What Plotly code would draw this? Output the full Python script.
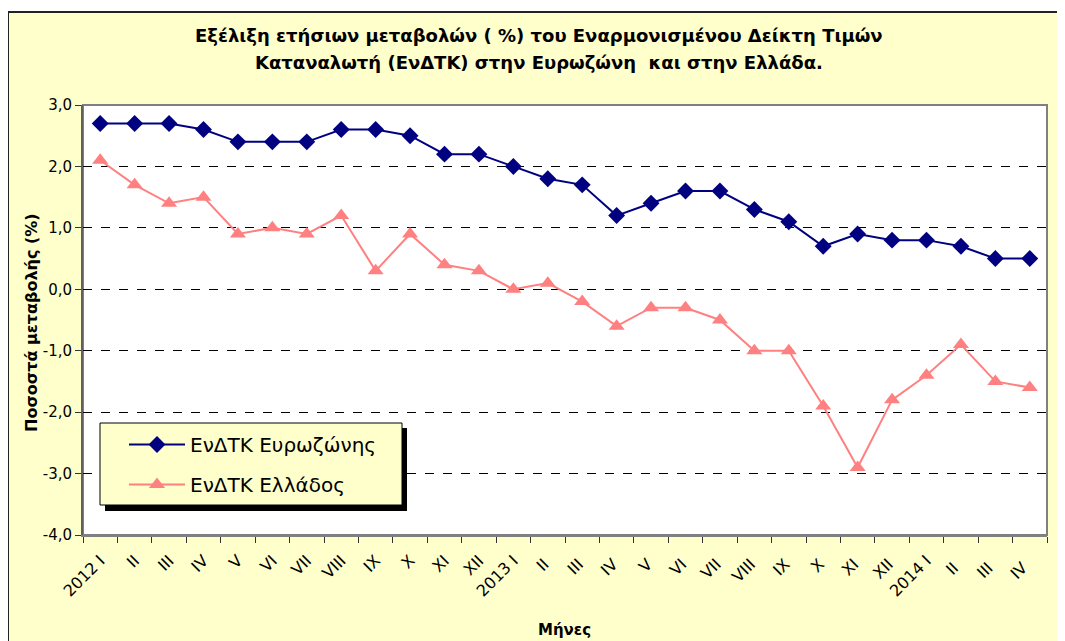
import plotly.graph_objects as go

months = ["2012 I", "II", "III", "IV", "V", "VI", "VII", "VIII", "IX", "X", "XI", "XII",
          "2013 I", "II ", "III ", "IV ", "V ", "VI ", "VII ", "VIII ", "IX ", "X ", "XI ", "XII ",
          "2014 I", "II  ", "III  ", "IV  "]
eurozone = [2.7, 2.7, 2.7, 2.6, 2.4, 2.4, 2.4, 2.6, 2.6, 2.5, 2.2, 2.2,
            2.0, 1.8, 1.7, 1.2, 1.4, 1.6, 1.6, 1.3, 1.1, 0.7, 0.9, 0.8,
            0.8, 0.7, 0.5, 0.5]
greece = [2.1, 1.7, 1.4, 1.5, 0.9, 1.0, 0.9, 1.2, 0.3, 0.9, 0.4, 0.3,
          0.0, 0.1, -0.2, -0.6, -0.3, -0.3, -0.5, -1.0, -1.0, -1.9, -2.9, -1.8,
          -1.4, -0.9, -1.5, -1.6]
yticks = [3, 2, 1, 0, -1, -2, -3, -4]
ytick_text = [f"{v:.1f}".replace(".", ",") for v in yticks]

OFF = 8  # page body margin
W, H = 1065 - OFF, 641 - OFF
# plot area in screenshot pixels
L, R, T, B = 83, 1047, 105, 535
pw, ph = R - L, B - T
def px(x): return (x - L) / pw
def py(y): return (B - y) / ph

FONT = "DejaVu Sans, Verdana, sans-serif"

fig = go.Figure()
fig.add_trace(go.Scatter(x=months, y=eurozone, name="ΕνΔΤΚ Ευρωζώνης", mode="lines+markers",
                         line=dict(color="#000080", width=2),
                         marker=dict(symbol="diamond", size=13, color="#000080"),
                         legendgroup="a"))
fig.add_trace(go.Scatter(x=months, y=greece, name="ΕνΔΤΚ Ελλάδος", mode="lines+markers",
                         line=dict(color="#FF8080", width=2),
                         marker=dict(symbol="triangle-up", size=14, color="#FF8080"),
                         legendgroup="b"))

shapes = [
    dict(type="rect", xref="paper", yref="paper", x0=px(8), y0=py(660), x1=px(1080), y1=py(12),
         fillcolor="#FFFFCC", line=dict(color="#222222", width=2), layer="below"),
    dict(type="rect", xref="paper", yref="paper", x0=0, y0=0, x1=1, y1=1,
         fillcolor="white", line=dict(color="#808080", width=2), layer="below"),
    dict(type="rect", xref="paper", yref="paper", x0=px(105), y0=py(511), x1=px(407), y1=py(428),
         fillcolor="black", line=dict(width=0), layer="above"),
    dict(type="rect", xref="paper", yref="paper", x0=px(100), y0=py(505), x1=px(402), y1=py(423),
         fillcolor="#FFFFCC", line=dict(color="black", width=1), layer="above"),
]

annotations = [
    dict(text="<b>Εξέλιξη ετήσιων μεταβολών ( %) του Εναρμονισμένου Δείκτη Τιμών</b>",
         xref="paper", yref="paper", x=px(539), y=py(36), xanchor="center", yanchor="middle",
         showarrow=False, font=dict(family=FONT, size=18, color="black")),
    dict(text="<b>Καταναλωτή (ΕνΔΤΚ) στην Ευρωζώνη  και στην Ελλάδα.</b>",
         xref="paper", yref="paper", x=px(539), y=py(63), xanchor="center", yanchor="middle",
         showarrow=False, font=dict(family=FONT, size=18, color="black")),
    dict(text="<b>Μήνες</b>", xref="paper", yref="paper", x=px(564), y=py(630),
         xanchor="center", yanchor="middle", showarrow=False,
         font=dict(family=FONT, size=15, color="black")),
    dict(text="<b>Ποσοστά μεταβολής (%)</b>", xref="paper", yref="paper", x=px(31), y=py(323),
         xanchor="center", yanchor="middle", showarrow=False, textangle=-90,
         font=dict(family=FONT, size=16, color="black")),
]

fig.update_layout(
    width=W, height=H,
    margin=dict(l=L - OFF, r=W - (R - OFF), t=T - OFF, b=H - (B - OFF), pad=0),
    paper_bgcolor="white", plot_bgcolor="rgba(0,0,0,0)",
    font=dict(family=FONT, size=14, color="black"),
    shapes=shapes, annotations=annotations,
    showlegend=True,
    legend=dict(x=px(124), y=py(425), xanchor="left", yanchor="top",
                bgcolor="rgba(0,0,0,0)", borderwidth=0, itemwidth=56,
                font=dict(family=FONT, size=20, color="black"),
                tracegroupgap=11, traceorder="grouped"),
    xaxis=dict(type="category", range=[-0.5, 27.5], tickangle=-45,
               ticks="outside", ticklen=6, tickcolor="#333333", tickson="boundaries",
               ticklabelstandoff=8,
               showline=True, linecolor="#808080", linewidth=2, showgrid=False,
               tickfont=dict(family=FONT, size=16, color="black")),
    yaxis=dict(range=[-4, 3], tickvals=yticks, ticktext=ytick_text,
               ticks="outside", ticklen=6, tickcolor="#333333",
               showline=True, linecolor="#606060", linewidth=2,
               showgrid=True, gridcolor="black", griddash="dash", gridwidth=1,
               zeroline=False,
               tickfont=dict(family=FONT, size=15, color="black")),
)

fig.write_html("out.html")
